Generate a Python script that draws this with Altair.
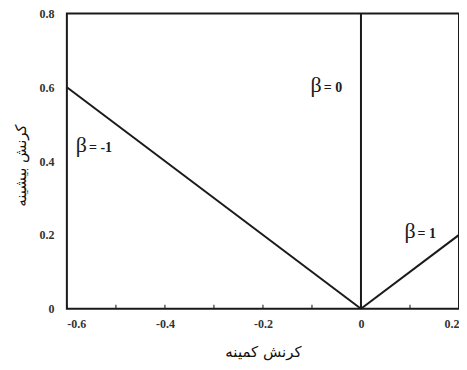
import altair as alt
import pandas as pd

# series data
beta_labels = ["β = -1", "β = 0", "β = 1"]
x_start = [-0.6, 0.0, 0.0]
y_start = [0.6, 0.0, 0.0]
x_end = [0.0, 0.0, 0.2]
y_end = [0.0, 0.8, 0.2]

# annotation anchors (data coords)
ann_text = ["= -1", "= 0", "= 1"]
ann_x = [-0.557, -0.078, 0.1135]
ann_y = [0.424, 0.586, 0.192]

x_ticks = [-0.6, -0.5, -0.4, -0.3, -0.2, -0.1, 0.0, 0.1, 0.2]
x_labels = [-0.6, -0.4, -0.2, 0.0, 0.2]
y_labels = [0.0, 0.2, 0.4, 0.6, 0.8]

rows = []
for i, b in enumerate(beta_labels):
    rows.append({"series": b, "x": x_start[i], "y": y_start[i], "o": 0})
    rows.append({"series": b, "x": x_end[i], "y": y_end[i], "o": 1})
lines_df = pd.DataFrame(rows)
ann_df = pd.DataFrame({"t": ann_text, "x": ann_x, "y": ann_y})
ticks_df = pd.DataFrame({"x": x_ticks, "y": [0.0] * len(x_ticks)})

label_font = "Liberation Serif"
lab_expr = "datum.value == 0 ? '0' : replace(format(datum.value, '.1f'), '\u2212', '-')"

xscale = alt.Scale(domain=[-0.6, 0.2], nice=False, zero=False)
yscale = alt.Scale(domain=[0, 0.8], nice=False)

xaxis = alt.Axis(
    values=x_labels, title="کرنش کمینه", domain=False, ticks=False, grid=False,
    labelFont=label_font, labelFontWeight="bold", labelFontSize=12, labelColor="#333",
    labelPadding=10, labelExpr=lab_expr,
    titleFont="DejaVu Sans", titleFontSize=15, titleFontWeight="normal", titleColor="#111",
    titleY=43, titleBaseline="middle",
)
yaxis = alt.Axis(
    values=y_labels, title="کرنش بیشینه", domain=False, ticks=False, grid=False,
    labelFont=label_font, labelFontWeight="bold", labelFontSize=12, labelColor="#333",
    labelPadding=13, labelExpr=lab_expr,
    titleFont="DejaVu Sans", titleFontSize=15, titleFontWeight="normal", titleColor="#111",
    titleX=-46, titleY=152, titleBaseline="middle",
)

lines = alt.Chart(lines_df).mark_line(color="#1a1a1a", strokeWidth=2).encode(
    x=alt.X("x:Q", scale=xscale, axis=xaxis),
    y=alt.Y("y:Q", scale=yscale, axis=yaxis),
    detail="series:N",
    order="o:O",
)

ticks = alt.Chart(ticks_df).mark_tick(
    orient="vertical", color="#1a1a1a", size=4, thickness=1.5, yOffset=-2
).encode(x=alt.X("x:Q", scale=xscale), y=alt.Y("y:Q", scale=yscale))

beta = alt.Chart(ann_df).mark_text(
    text="β", font=label_font, fontSize=22, align="right", baseline="alphabetic", dx=-1, color="#1a1a1a"
).encode(x=alt.X("x:Q", scale=xscale), y=alt.Y("y:Q", scale=yscale))

rest = alt.Chart(ann_df).mark_text(
    font=label_font, fontSize=14, fontWeight="bold", align="left", baseline="alphabetic", dx=1, color="#1a1a1a"
).encode(x=alt.X("x:Q", scale=xscale), y=alt.Y("y:Q", scale=yscale), text="t:N")

chart = alt.layer(lines, ticks, beta, rest).properties(
    width=393, height=296,
    autosize=alt.AutoSizeParams(type="none"),
    padding={"left": 59, "top": 5, "right": 0, "bottom": 53},
    background="white",
).configure_view(stroke="#1a1a1a", strokeWidth=2)

chart.save("out.html", embed_options={"renderer": "svg", "actions": False})
